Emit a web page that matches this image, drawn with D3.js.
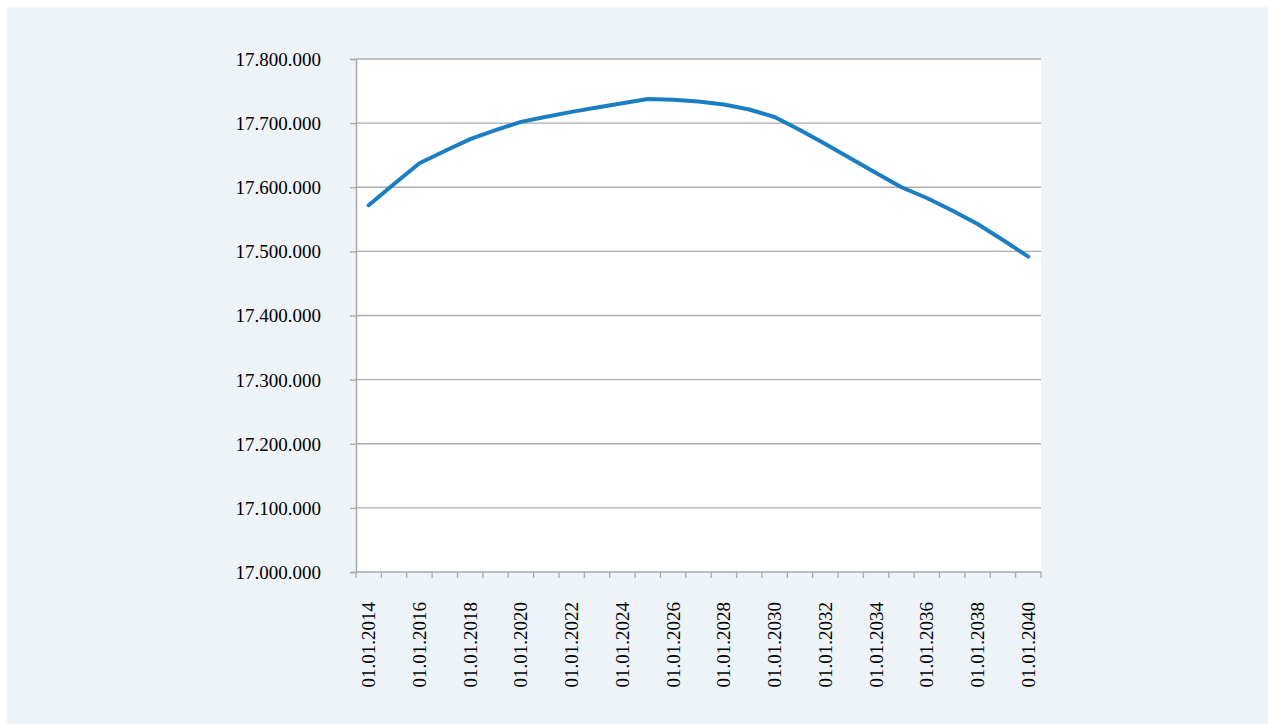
<!DOCTYPE html>
<html>
<head>
<meta charset="utf-8">
<script src="https://cdn.jsdelivr.net/npm/d3@7"></script>
<style>
  html, body { margin: 0; padding: 0; background: #ffffff; }
  svg { display: block; }
  text { font-family: "Liberation Serif", "Times New Roman", serif; fill: #000; }
</style>
</head>
<body>
<svg id="chart" width="1268" height="724"></svg>
<script>
// Population forecast, value on 1 January of each year
const years = [2014, 2015, 2016, 2017, 2018, 2019, 2020, 2021, 2022, 2023, 2024, 2025, 2026,
               2027, 2028, 2029, 2030, 2031, 2032, 2033, 2034, 2035, 2036, 2037, 2038, 2039, 2040];
const population = [17572000, 17605000, 17637500, 17656500, 17675000, 17689000, 17702000,
                    17710000, 17717500, 17724500, 17731000, 17737500, 17736300, 17733700,
                    17729000, 17721300, 17709500, 17689300, 17667400, 17644800, 17622200,
                    17600000, 17583200, 17563700, 17542700, 17517700, 17491700];
const yTicks = [17000000, 17100000, 17200000, 17300000, 17400000, 17500000, 17600000, 17700000, 17800000];
const labelYears = years.filter((y, i) => i % 2 === 0);

const svg = d3.select("#chart");
const W = 1268, H = 724;
const plot = { left: 356, right: 1041, top: 59, bottom: 572 };

// panel background
svg.append("rect").attr("x", 7).attr("y", 7).attr("width", W - 7).attr("height", H - 7)
  .attr("fill", "#eef3f8");
// plot area
svg.append("rect").attr("x", plot.left).attr("y", plot.top)
  .attr("width", plot.right - plot.left).attr("height", plot.bottom - plot.top)
  .attr("fill", "#ffffff");

const x = d3.scaleBand().domain(years).range([plot.left, plot.right]).padding(0);
const y = d3.scaleLinear().domain([17000000, 17800000]).range([plot.bottom, plot.top]);

const locale = d3.formatLocale({ decimal: ",", thousands: ".", grouping: [3], currency: ["", ""] });
const fmt = locale.format(",d");

// horizontal gridlines
svg.append("g").selectAll("line").data(yTicks.filter(v => v > 17000000)).join("line")
  .attr("x1", plot.left).attr("x2", plot.right)
  .attr("y1", d => y(d)).attr("y2", d => y(d))
  .attr("stroke", "#ababab").attr("stroke-width", 1.3);

// y axis
const yAxis = d3.axisLeft(y).tickValues(yTicks).tickFormat(fmt).tickSize(6).tickPadding(29);
const gy = svg.append("g").attr("transform", `translate(${plot.left},0)`).call(yAxis);
gy.select(".domain").attr("stroke", "#a9a9a9").attr("stroke-width", 1.5);
gy.selectAll(".tick line").attr("stroke", "#a9a9a9").attr("stroke-width", 1.3);
gy.selectAll(".tick text").attr("font-size", 19).attr("font-family", "Liberation Serif")
  .attr("fill", "#000").attr("dy", "0.34em");

// x axis: tick marks on category boundaries
const bounds = years.map(d => x(d)).concat([x(years[years.length - 1]) + x.bandwidth()]);
svg.append("line").attr("x1", plot.left).attr("x2", plot.right)
  .attr("y1", plot.bottom).attr("y2", plot.bottom)
  .attr("stroke", "#a9a9a9").attr("stroke-width", 1.5);
svg.append("g").selectAll("line").data(bounds).join("line")
  .attr("x1", d => d).attr("x2", d => d)
  .attr("y1", plot.bottom).attr("y2", plot.bottom + 6)
  .attr("stroke", "#a9a9a9").attr("stroke-width", 1.3);

// x labels, rotated, every second year
svg.append("g").selectAll("text").data(labelYears).join("text")
  .attr("transform", d => `translate(${x(d) + x.bandwidth() / 2},${plot.bottom + 30}) rotate(-90)`)
  .attr("text-anchor", "end").attr("dy", "0.34em")
  .attr("font-size", 19)
  .text(d => "01.01." + d);

// data line
const line = d3.line()
  .x((d, i) => x(years[i]) + x.bandwidth() / 2)
  .y(d => y(d));
svg.append("path").datum(population)
  .attr("d", line)
  .attr("fill", "none")
  .attr("stroke", "#1b7ec2")
  .attr("stroke-width", 4)
  .attr("stroke-linejoin", "round")
  .attr("stroke-linecap", "round");
</script>
</body>
</html>
